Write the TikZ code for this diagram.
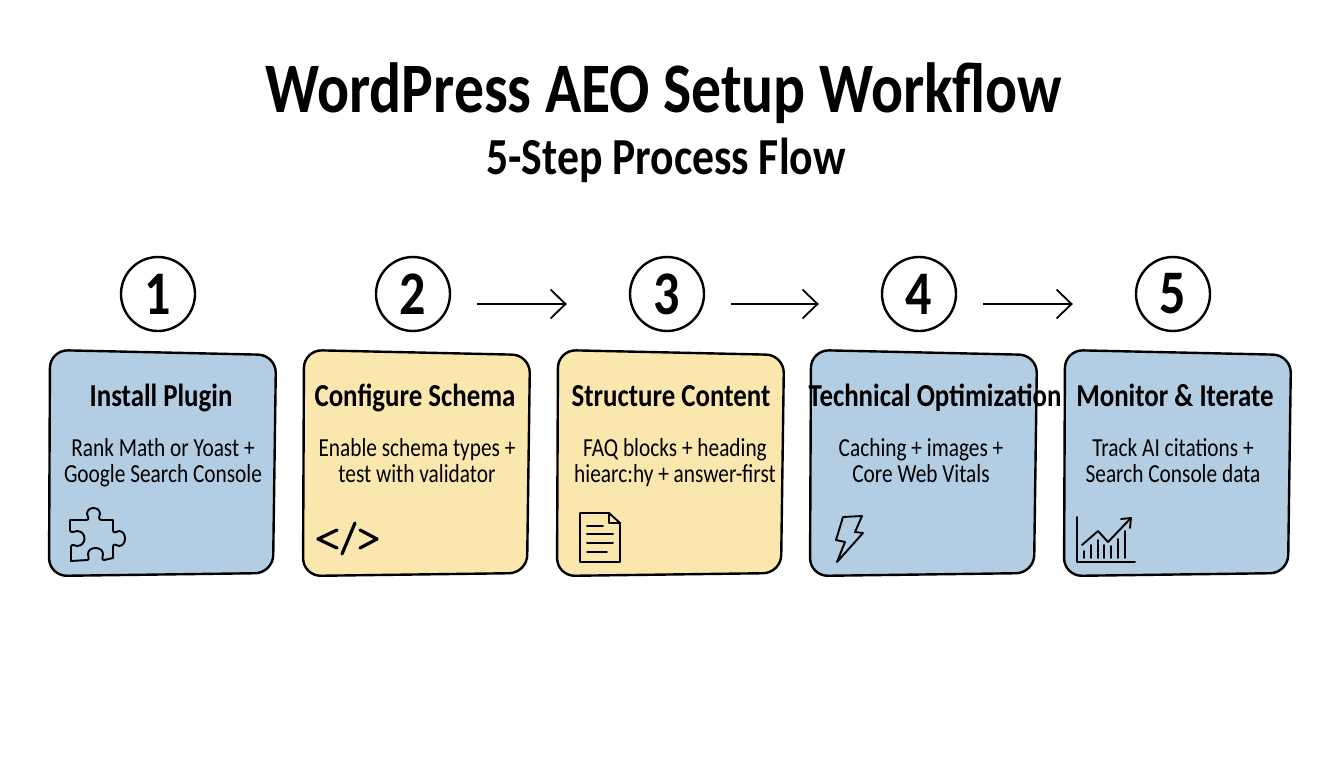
\documentclass[tikz,border=0pt]{standalone}
\usepackage{fontspec}
\setmainfont{Carlito}
\newfontfamily\headfont[FakeStretch=0.84]{Carlito}
\newfontfamily\bodyfont[FakeStretch=0.82]{Carlito}
\usetikzlibrary{arrows.meta,positioning,calc}
\definecolor{cardblue}{RGB}{179,205,227}
\definecolor{cardyellow}{RGB}{250,231,173}
\tikzset{step num/.style={circle,draw,line width=2.4pt,minimum size=74pt,inner sep=0pt,font=\headfont\fontsize{62}{62}\selectfont\bfseries},
         card line/.style={line width=2.4pt,rounded corners=18pt},
         card anchor/.style={rectangle,minimum width=226pt,minimum height=224pt,inner sep=0pt},
         card head/.style={rectangle,anchor=base,inner sep=0pt,font=\headfont\fontsize{32}{32}\selectfont\bfseries},
         card text/.style={rectangle,align=center,inner sep=0pt,font=\bodyfont\fontsize{26}{26}\selectfont,execute at begin node=\strut,execute at end node=\strut},
         flow arrow/.style={line width=1.8pt,-{Straight Barb[length=15pt,width=29pt,line width=1.8pt]},shorten <=26pt,shorten >=62pt},
         icon/.style={line width=1.9pt,line join=round,line cap=round},
}
\newcommand{\cardbox}[3]{%
\node[card anchor] (#1) at (#2,463) {};
\filldraw[card line,fill=#3] ($(#1.center)+(-113,-113)$) -- ++(226,5) -- ++(-3,218) -- ++(-224,3) -- cycle;
}
\begin{document}
\begin{tikzpicture}[x=1pt,y=-1pt]
\useasboundingbox (0,0) rectangle (1344,768);
% titles
\node[rectangle,anchor=base,inner sep=0pt,font=\headfont\fontsize{71}{71}\selectfont\bfseries] (title) at (664,112) {WordPress AEO Setup Workflow};
\node[rectangle,anchor=base,inner sep=0pt,font=\headfont\fontsize{52}{52}\selectfont\bfseries] (subtitle) at (666,174) {5-Step Process Flow};
% numbers
\node[step num] (num1) at (158,294) {1};
\node[step num] (num2) at (413,294) {2};
\node[step num] (num3) at (667,294) {3};
\node[step num] (num4) at (919,294) {4};
\node[step num] (num5) at (1173,294) {5};
\draw[flow arrow] ([yshift=-10pt]num2.east) -- ([yshift=-10pt]num3.west);
\draw[flow arrow] ([yshift=-10pt]num3.east) -- ([yshift=-10pt]num4.west);
\draw[flow arrow] ([yshift=-10pt]num4.east) -- ([yshift=-10pt]num5.west);
% cards
\cardbox{card1}{163}{cardblue}
\cardbox{card2}{417}{cardyellow}
\cardbox{card3}{671}{cardyellow}
\cardbox{card4}{924}{cardblue}
\cardbox{card5}{1178}{cardblue}
\node[card head] (head1) at (161,406) {Install Plugin};
\node[card head] (head2) at (415,406) {Configure Schema};
\node[card head] (head3) at (671,406) {Structure Content};
\node[card head] (head4) at (935,406) {Technical Optimization};
\node[card head] (head5) at (1175,406) {Monitor \& Iterate};
\node[card text] (text1) at (163,464) {Rank Math or Yoast +\\Google Search Console};
\node[card text] (text2) at (417,464) {Enable schema types +\\test with validator};
\node[card text] (text3) at (675,464) {FAQ blocks + heading\\hiearc:hy + answer-first};
\node[card text] (text4) at (921,464) {Caching + images +\\Core Web Vitals};
\node[card text] (text5) at (1173,464) {Track AI citations +\\Search Console data};
% icons
\draw[icon] (70,520) -- (86,520) .. controls (90,520) and (88,517) .. (87,514) .. controls (87,506) and (100,506) .. (100,514) .. controls (99,517) and (98,520) .. (102,520) -- (113,520) -- (113,530) .. controls (113,534) and (116,532) .. (119,531) .. controls (127,531) and (127,546) .. (119,546) .. controls (116,545) and (113,543) .. (113,547) -- (113,558) -- (104,560) .. controls (101,560) and (103,557) .. (103,554) .. controls (103,546) and (88,546) .. (88,554) .. controls (88,557) and (90,560) .. (87,560) -- (71,561) -- (71,547) .. controls (71,544) and (74,545) .. (77,546) .. controls (87,546) and (87,531) .. (77,531) .. controls (74,532) and (70,533) .. (70,530) -- cycle;
\draw[icon,line width=3.2pt] (337,530) -- (318,539) -- (337,548);
\draw[icon,line width=3.2pt] (355,523) -- (342,554);
\draw[icon,line width=3.2pt] (360,530) -- (377,539) -- (360,548);
\draw[icon] (580,513) -- (609,513) -- (620,523) -- (620,562) -- (580,562) -- cycle;
\draw[icon] (609,513) -- (609,523) -- (620,523);
\draw[icon] (587,526) -- (603,526);
\draw[icon] (587,534) -- (613,534);
\draw[icon] (587,543) -- (613,543);
\draw[icon] (587,552) -- (607,552);
\draw[icon] (843,517) -- (862,516) -- (855,532) -- (863,533) -- (837,562) -- (845,542) -- (836,540) -- cycle;
\draw[icon] (1077,517) -- (1077,562) -- (1135,562);
\draw[icon] (1082,545) -- (1098,531) -- (1108,542) -- (1130,519);
\draw[icon] (1121,519) -- (1131,518) -- (1130,528);
\foreach \x/\y in {1084/551,1091/545,1098/540,1104/545,1111/546,1118/539,1125/531}
  \draw[icon] (\x,558) -- (\x,\y);
\end{tikzpicture}
\end{document}
